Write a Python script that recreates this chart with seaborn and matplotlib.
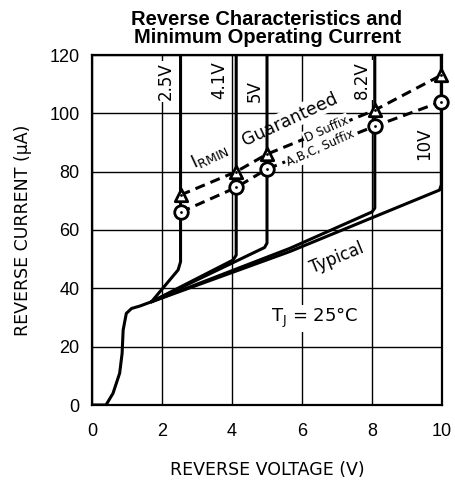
import numpy as np
import pandas as pd
import matplotlib.pyplot as plt
import seaborn as sns

# --- data ---
# common low-voltage part of all curves (V, uA)
base_v = [0.0, 0.4, 0.6, 0.79, 0.86, 0.89, 0.98, 1.13, 1.36, 1.7]
base_i = [0.0, 0.0, 4.0, 10.9, 17.7, 25.7, 31.4, 33.1, 33.9, 35.4]

# typical curves after the knee, one per zener voltage
zener_names = ["2.5V", "4.1V", "5V", "8.2V", "10V"]
zener_v = [2.53, 4.12, 5.0, 8.08, 9.98]
curve_v = {
    "2.5V": [1.7, 2.46, 2.53, 2.53],
    "4.1V": [1.7, 4.03, 4.12, 4.12],
    "5V": [1.7, 4.93, 5.0, 5.0],
    "8.2V": [1.7, 5.65, 8.0, 8.08, 8.08],
    "10V": [1.7, 5.65, 9.93, 9.98, 9.98],
}
curve_i = {
    "2.5V": [35.4, 46.3, 49.1, 120],
    "4.1V": [35.4, 49.7, 51.4, 120],
    "5V": [35.4, 54.0, 55.5, 120],
    "8.2V": [35.4, 53.7, 66.2, 67.5, 120],
    "10V": [35.4, 52.6, 73.7, 75.5, 120],
}

# guaranteed minimum operating current
irmin_d = [72.0, 80.0, 86.0, 101.1, 113.1]
irmin_abc = [66.1, 74.6, 80.9, 95.6, 104.0]

# label positions (V, uA)
label_v = [2.11, 3.63, 4.65, 7.72, 9.5]
label_i = [110.9, 111.4, 107.6, 111.4, 89.4]

# --- build long table for seaborn ---
rows = [("base", v, i) for v, i in zip(base_v, base_i)]
for name in zener_names:
    rows += [(name, v, i) for v, i in zip(curve_v[name], curve_i[name])]
df = pd.DataFrame(rows, columns=["curve", "V", "I"])

sns.set_style("white")
plt.rcParams['font.family'] = ['Liberation Sans', 'DejaVu Sans']
plt.rcParams['text.color'] = 'black'
plt.rcParams['axes.labelcolor'] = 'black'
narrow = ['Liberation Sans Narrow', 'DejaVu Sans']

fig = plt.figure(figsize=(4.55, 4.83), dpi=100)
ax = fig.add_axes([92 / 455, 1 - 405 / 483, 350 / 455, 350 / 483])

sns.lineplot(data=df, x="V", y="I", units="curve", estimator=None, sort=False,
             color="black", lw=2.2, ax=ax, zorder=3)

# dashed guaranteed lines with markers
for vals, mk, sz in [(irmin_d, "^", 80), (irmin_abc, "o", 95)]:
    sns.lineplot(x=zener_v, y=vals, color="black", lw=2.2, linestyle=(0, (3.3, 2.0)),
                 ax=ax, zorder=4, sort=False)
    sns.scatterplot(x=zener_v, y=vals, marker=mk, s=sz, facecolor="white",
                    edgecolor="black", linewidth=2.0, ax=ax, zorder=5, clip_on=False)
    sns.scatterplot(x=zener_v, y=vals, marker="o", s=4, color="black",
                    linewidth=0, ax=ax, zorder=6, clip_on=False)

ax.set_xlim(0, 10)
ax.set_ylim(0, 120)
ax.set_xticks(np.arange(0, 11, 2))
ax.set_yticks(np.arange(0, 121, 20))
ax.grid(True, color="black", lw=1.0)
ax.set_axisbelow(True)
for s in ax.spines.values():
    s.set_linewidth(1.6)
    s.set_color("black")
ax.tick_params(length=0, labelsize=13, colors="black")
ax.tick_params(axis="x", pad=13)
ax.tick_params(axis="y", pad=9)

ax.set_xlabel("REVERSE VOLTAGE (V)", fontsize=12.5, family=narrow, labelpad=15)
ax.set_ylabel("REVERSE CURRENT (μA)", fontsize=12.5, family=narrow)
ax.yaxis.set_label_coords(-0.17, 0.5)

fig.text(267 / 455, 1 - 25 / 483, "Reverse Characteristics and", ha="center", va="baseline",
         fontsize=14.5, fontweight="bold")
fig.text(267 / 455, 1 - 43 / 483, "Minimum Operating Current", ha="center", va="baseline",
         fontsize=14.5, fontweight="bold")

wb = dict(facecolor="white", edgecolor="none", pad=1.0)
for name, x, y in zip(zener_names, label_v, label_i):
    ax.text(x, y, name, rotation=90, ha="center", va="center", fontsize=12,
            family=narrow, bbox=wb, zorder=2)

ax.text(3.37, 85.5, r"I$_\mathregular{RMIN}$", rotation=25, ha="center", va="center",
        fontsize=13, family=narrow, zorder=2)
ax.text(5.65, 98.0, "Guaranteed", rotation=25, ha="center", va="center",
        fontsize=12.5, family=narrow, bbox=wb, zorder=2)
ax.text(6.7, 94.4, "D Suffix", rotation=24, ha="center", va="center",
        fontsize=8.5, family=narrow, bbox=wb, zorder=4.5)
ax.text(6.53, 88.0, "A,B,C, Suffix", rotation=24, ha="center", va="center",
        fontsize=8.5, family=narrow, bbox=wb, zorder=4.5)
ax.text(7.0, 50.3, "Typical", rotation=22, ha="center", va="center",
        fontsize=12, family=narrow, bbox=wb, zorder=2)
ax.text(6.36, 29.8, r"T$_\mathregular{J}$ = 25°C", ha="center", va="center",
        fontsize=13, family=narrow, bbox=wb, zorder=2)

fig.savefig("out.png", dpi=100)
